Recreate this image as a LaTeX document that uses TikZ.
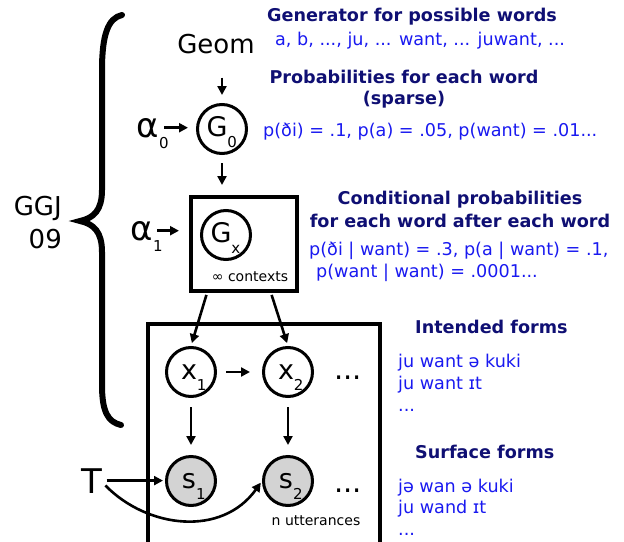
\documentclass[tikz,border=0pt]{standalone}
\usepackage{fontspec}
\setmainfont{DejaVu Sans}
\usetikzlibrary{arrows.meta}
\definecolor{headc}{RGB}{15,15,115}
\definecolor{textc}{RGB}{25,25,240}
\definecolor{obsfill}{RGB}{211,211,211}
\newcommand\lowsub[1]{\raisebox{-11pt}{\fontsize{15}{15}\selectfont #1}}
\newcommand\csub[2]{#1\rlap{\smash{\lowsub{#2}}}}
\begin{document}
\begin{tikzpicture}[x=1pt,y=-1pt,
  arr/.style={-{Triangle[length=9pt,width=9pt]}, line width=2.6pt},
  circ/.style={circle, draw, line width=3pt, minimum size=49pt, inner sep=0pt},
  obs/.style={circ, fill=obsfill},
  clbl/.style={font=\fontsize{27}{27}\selectfont, inner sep=0pt, text height=15.7pt, text depth=0pt, xshift=-5pt},
  vlbl/.style={font=\fontsize{27}{27}\selectfont, inner sep=0pt, text height=14.8pt, text depth=0pt, xshift=-2pt},
  frame/.style={draw, line width=4pt, inner sep=0pt},
  big/.style={inner sep=0pt},
  head/.style={font=\fontsize{17.6}{17.6}\selectfont\bfseries, text=headc, inner sep=0pt, anchor=base},
  info/.style={font=\fontsize{17.6}{17.6}\selectfont, text=textc, inner sep=0pt, anchor=base west},
  small/.style={font=\fontsize{14}{14}\selectfont, inner sep=0pt},
  dots/.style={font=\fontsize{29}{29}\selectfont, inner sep=0pt, anchor=base}
]
\useasboundingbox (0,0) rectangle (624,541);
\clip (0,0) rectangle (624,541);

% brace
\draw[line width=6pt, line cap=round]
  (122,15) .. controls (108,18) and (102,35) .. (102,70) -- (102,190)
  .. controls (102,210) and (94,218) .. (80,221)
  .. controls (94,224) and (102,232) .. (102,252) -- (102,385)
  .. controls (102,412) and (108,422) .. (121,425);
\node[big, anchor=base east, font=\fontsize{26}{26}\selectfont] (ggj) at (62,215) {GGJ};
\node[big, anchor=base east, font=\fontsize{26}{26}\selectfont] (ggjyear) at (62,248) {09};

% top model
\node[big, anchor=base, font=\fontsize{26}{26}\selectfont] (geom) at (216,53) {Geom};
\node[circ, label={[clbl]center:\csub{G}{0}}] (g0) at (222,129) {};
\node[big, anchor=base, font=\fontsize{34}{34}\selectfont] (a0) at (148,137) {\csub{α}{0}};
\node[frame, minimum width=106pt, minimum height=94pt] (ctx) at (244,244) {};
\node[circ, label={[clbl]center:\csub{G}{x}}] (gx) at (226,235) {};
\node[small] (ctxlbl) at (250,277) {∞ contexts};
\node[big, anchor=base, font=\fontsize{34}{34}\selectfont] (a1) at (142,240) {\csub{α}{1}};

\draw[arr, shorten <=24pt, shorten >=8pt] (geom.south -| g0.north) -- (g0.north);
\draw[arr, shorten <=5pt, shorten >=8pt] (a0.east) -- (a0.east -| g0.west);
\draw[arr, shorten <=8pt, shorten >=10pt] (g0.south) -- (ctx.north -| g0.south);
\draw[arr, shorten <=4pt, shorten >=10pt] (a1.east) -- (a1.east -| ctx.west);

% plate
\node[frame, minimum width=232pt, minimum height=240pt] (plate) at (264,444) {};
\node[circ, label={[vlbl]center:\csub{x}{1}}] (x1) at (191,372) {};
\node[circ, label={[vlbl]center:\csub{x}{2}}] (x2) at (288,372) {};
\node[obs, label={[vlbl]center:\csub{s}{1}}] (s1) at (191,481) {};
\node[obs, label={[vlbl]center:\csub{s}{2}}] (s2) at (288,481) {};
\node[dots] (xdots) at (348,379) {...};
\node[dots] (sdots) at (348,492) {...};
\node[small] (nutt) at (316,521) {n utterances};
\node[big, anchor=base, font=\fontsize{34}{34}\selectfont] (T) at (92,493) {T};

\draw[arr, shorten <=2pt, shorten >=3pt] ([xshift=-37pt]ctx.south) -- (x1.north);
\draw[arr, shorten <=2pt, shorten >=3pt] ([xshift=27pt]ctx.south) -- (x2.north);
\draw[arr, shorten <=9pt, shorten >=12pt] (x1.east) -- (x2.west);
\draw[arr, shorten <=9pt, shorten >=10pt] (x1.south) -- (s1.north);
\draw[arr, shorten <=9pt, shorten >=10pt] (x2.south) -- (s2.north);
\draw[arr, shorten <=4pt, shorten >=2pt] (T.east) -- (T.east -| s1.west);
\draw[arr, shorten <=4pt, shorten >=2pt] ([yshift=-2pt]T.east) .. controls +(45,46) and +(-40,56) .. (s2.west);

% right-hand texts
\node[head] (genh) at (412,21) {Generator for possible words};
\node[info] (genw) at (275,45) {a, b, ..., ju, ... want, ... juwant, ...};
\node[head] (probh) at (404,83) {Probabilities for each word};
\node[head] (probh2) at (404,104) {(sparse)};
\node[info] (probw) at (263,136) {p(ði) = .1, p(a) = .05, p(want) = .01...};
\node[head] (condh) at (460,204) {Conditional probabilities};
\node[head] (condh2) at (460,227) {for each word after each word};
\node[info] (condw) at (309,255) {p(ði | want) = .3, p(a | want) = .1,};
\node[info] (condw2) at (316,277) {p(want | want) = .0001...};

\node[head, anchor=base west] (inth) at (415,333) {Intended forms};
\node[info] (intw1) at (398,367) {ju want ə kuki};
\node[info] (intw2) at (398,389) {ju want ɪt};
\node[info] (intw3) at (398,411) {...};
\node[head, anchor=base west] (surfh) at (415,458) {Surface forms};
\node[info] (surfw1) at (398,492) {jə wan ə kuki};
\node[info] (surfw2) at (398,513) {ju wand ɪt};
\node[info] (surfw3) at (398,535) {...};
\end{tikzpicture}
\end{document}
